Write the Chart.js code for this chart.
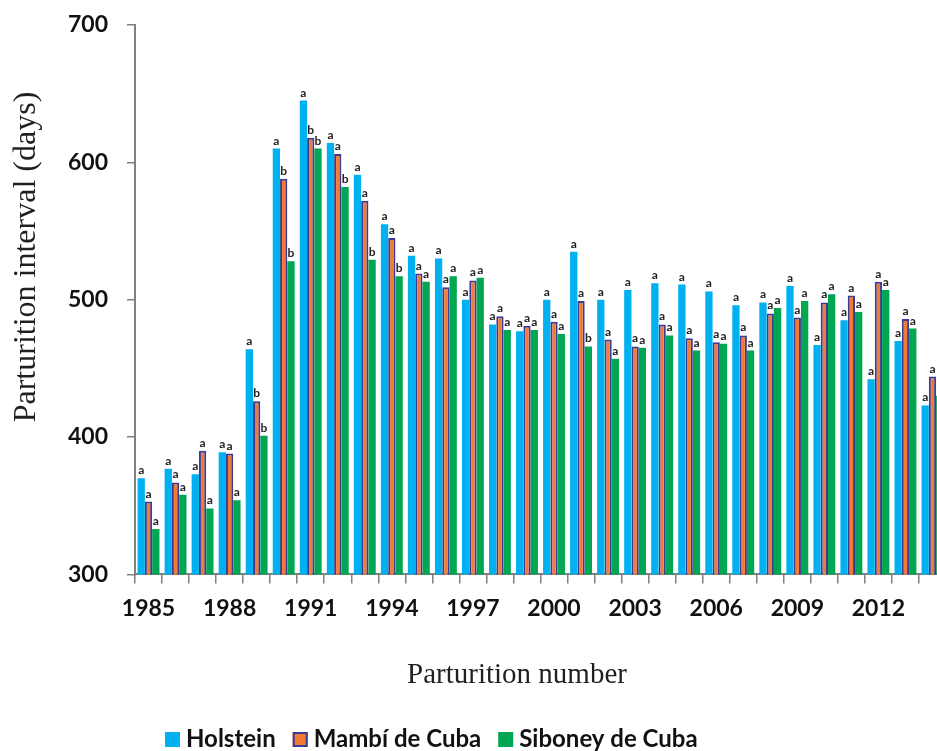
<!DOCTYPE html>
<html>
<head>
<meta charset="utf-8">
<title>Parturition interval</title>
<script src="https://cdn.jsdelivr.net/npm/chart.js@4.4.1/dist/chart.umd.min.js"></script>
<style>
  html, body { margin: 0; padding: 0; background: #ffffff; overflow: hidden; }
  #wrap { width: 970px; height: 751px; }
</style>
</head>
<body>
<div id="wrap"><canvas id="interval-chart" width="970" height="751"></canvas></div>
<script>
// Years on the category axis
const years = [1985, 1986, 1987, 1988, 1989, 1990, 1991, 1992, 1993, 1994,
               1995, 1996, 1997, 1998, 1999, 2000, 2001, 2002, 2003, 2004,
               2005, 2006, 2007, 2008, 2009, 2010, 2011, 2012, 2013, 2014];

// Mean parturition interval (days) per breed
const holstein = [370, 377, 373, 389, 464, 610, 645, 614, 591, 555,
                  532, 530, 500, 482, 477, 500, 535, 500, 507, 512,
                  511, 506, 496, 498, 510, 467, 485, 442, 470, 423];
const mambi    = [353, 367, 390, 388, 426, 588, 618, 606, 572, 545,
                  519, 509, 514, 488, 481, 484, 499, 471, 466, 482,
                  472, 469, 474, 490, 487, 498, 503, 513, 486, 444];
const siboney  = [333, 358, 348, 354, 401, 528, 610, 582, 529, 517,
                  513, 517, 516, 478, 478, 475, 466, 457, 465, 474,
                  463, 468, 463, 494, 499, 504, 491, 507, 479, 430];

// Significance letters shown above each bar
const holsteinLetters = ['a','a','a','a','a','a','a','a','a','a',
                         'a','a','a','a','a','a','a','a','a','a',
                         'a','a','a','a','a','a','a','a','a','a'];
const mambiLetters    = ['a','a','a','a','b','b','b','a','a','a',
                         'a','a','a','a','a','a','a','a','a','a',
                         'a','a','a','a','a','a','a','a','a','a'];
const siboneyLetters  = ['a','a','a','a','b','b','b','b','b','b',
                         'a','a','a','a','a','a','b','a','a','a',
                         'a','a','a','a','a','a','a','a','a','a'];

// Y axis ticks
const yMin = 300;
const yMax = 700;
const yStep = 100;

const AXIS_GREY = '#808080';
const TEXT_DARK = '#111111';
const TICK_FONT = { family: 'Lato', weight: 'bold', size: 23 };

// Small letters above every bar
const letterLabels = {
    id: 'letterLabels',
    afterDatasetsDraw(chart) {
        const ctx = chart.ctx;
        ctx.save();
        ctx.font = 'bold 12px Lato';
        ctx.fillStyle = '#231f20';
        ctx.textAlign = 'center';
        ctx.textBaseline = 'alphabetic';
        chart.data.datasets.forEach((ds, i) => {
            const meta = chart.getDatasetMeta(i);
            meta.data.forEach((bar, j) => {
                ctx.fillText(ds.letters[j], bar.x, bar.y - 4);
            });
        });
        ctx.restore();
    }
};

// Axis titles and the legend row underneath
const titlesAndLegend = {
    id: 'titlesAndLegend',
    afterDraw(chart) {
        const ctx = chart.ctx;
        ctx.save();
        ctx.fillStyle = '#231f20';

        // y title, rotated
        ctx.save();
        ctx.translate(35, 257);
        ctx.rotate(-Math.PI / 2);
        ctx.font = '32px "Liberation Serif"';
        ctx.textAlign = 'center';
        ctx.textBaseline = 'alphabetic';
        ctx.fillText('Parturition interval (days)', 0, 0);
        ctx.restore();

        // x title
        ctx.font = '29px "Liberation Serif"';
        ctx.textAlign = 'center';
        ctx.textBaseline = 'alphabetic';
        ctx.fillText('Parturition number', 517, 683);

        // legend
        ctx.font = 'bold 24px Lato';
        ctx.textAlign = 'left';
        let x = 165;
        const baseY = 747;
        chart.data.datasets.forEach(ds => {
            ctx.fillStyle = ds.backgroundColor;
            ctx.fillRect(x, baseY - 15, 15, 15);
            if (ds.borderWidth) {
                ctx.strokeStyle = ds.borderColor;
                ctx.lineWidth = 2;
                ctx.strokeRect(x + 1, baseY - 14, 13, 13);
            }
            x += 21;
            ctx.fillStyle = TEXT_DARK;
            ctx.fillText(ds.label, x, baseY);
            x += ctx.measureText(ds.label).width + 17;
        });
        ctx.restore();
    }
};

const ctx = document.getElementById('interval-chart').getContext('2d');
new Chart(ctx, {
    type: 'bar',
    data: {
        labels: years,
        datasets: [
            { label: 'Holstein', data: holstein, letters: holsteinLetters,
              backgroundColor: '#00b0f0', borderWidth: 0 },
            { label: 'Mambí de Cuba', data: mambi, letters: mambiLetters,
              backgroundColor: '#f07b37', borderColor: '#3b3b94', borderWidth: 2 },
            { label: 'Siboney de Cuba', data: siboney, letters: siboneyLetters,
              backgroundColor: '#00a651', borderWidth: 0 }
        ]
    },
    options: {
        responsive: false,
        animation: false,
        categoryPercentage: 0.81,
        barPercentage: 1.0,
        layout: { padding: { left: 68, top: 25, right: 24, bottom: 118 } },
        plugins: {
            legend: { display: false },
            tooltip: { enabled: false }
        },
        scales: {
            x: {
                grid: { drawOnChartArea: false, drawTicks: true, tickLength: 9,
                        color: AXIS_GREY, lineWidth: 1.5, offset: true },
                border: { display: true, color: AXIS_GREY, width: 2 },
                ticks: {
                    autoSkip: false, maxRotation: 0, minRotation: 0, padding: 11,
                    font: TICK_FONT, color: TEXT_DARK,
                    callback: (value, index) => (index % 3 === 0 ? years[index] : '')
                }
            },
            y: {
                min: yMin,
                max: yMax,
                grid: { drawOnChartArea: false, drawTicks: true, tickLength: 8,
                        color: AXIS_GREY, lineWidth: 1.5 },
                border: { display: true, color: AXIS_GREY, width: 2 },
                ticks: { stepSize: yStep, padding: 19, font: TICK_FONT, color: TEXT_DARK },
                afterFit(scale) {
                    scale.width = 67;
                    scale.paddingTop = 0;
                    scale.paddingBottom = 0;
                }
            }
        }
    },
    plugins: [letterLabels, titlesAndLegend]
});
</script>
</body>
</html>
